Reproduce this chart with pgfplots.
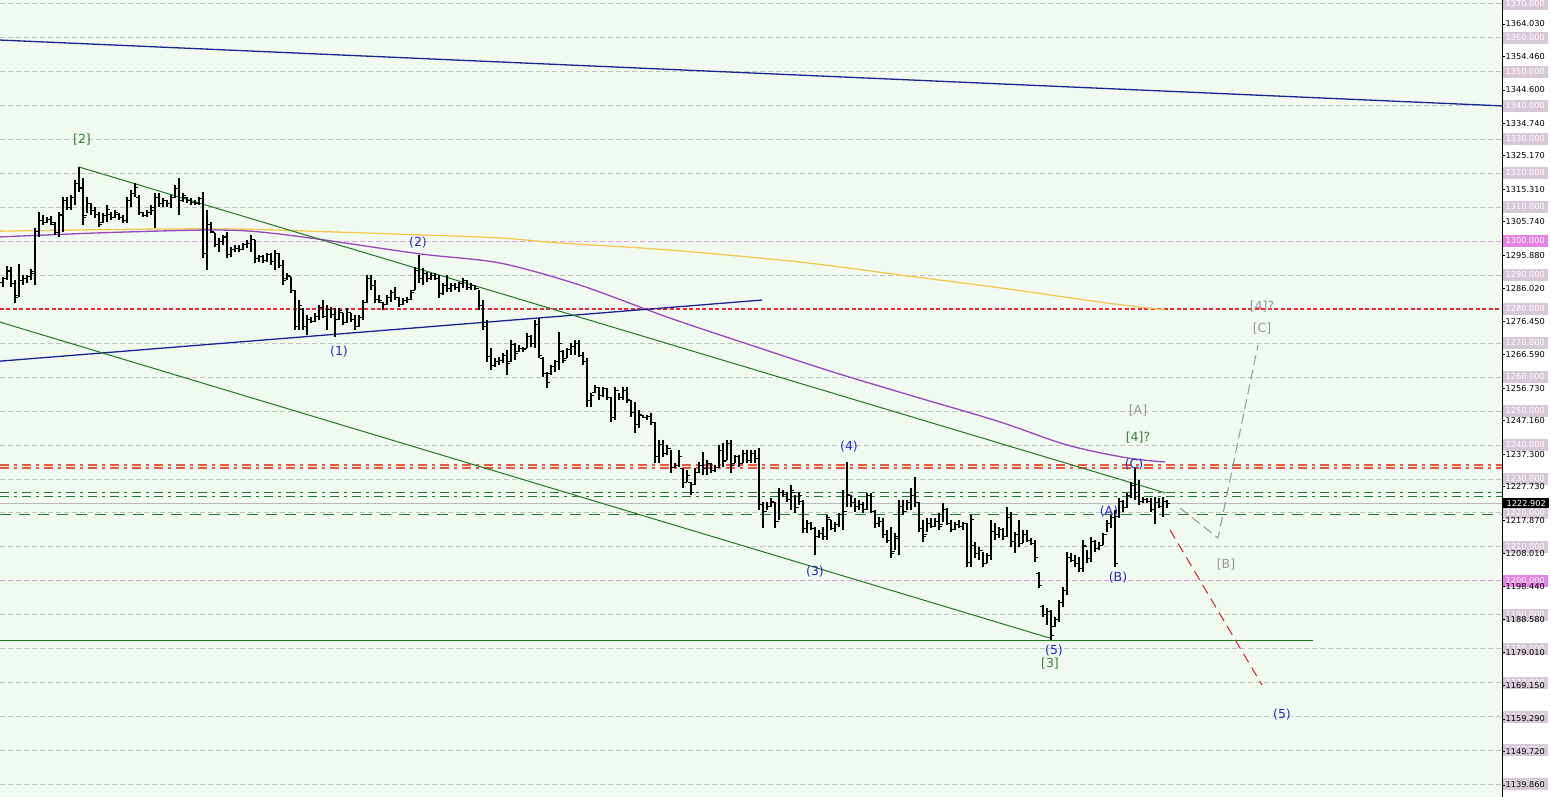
\documentclass[border=0pt]{standalone}
\usepackage{fontspec}
\setmainfont{DejaVu Sans}
\usepackage{pgfplots}
\usepackage{pgfplotstable}
\pgfplotsset{compat=1.18}

\definecolor{bgmint}{RGB}{240,250,241}
\definecolor{gridc}{RGB}{190,196,190}
\definecolor{navyl}{RGB}{25,35,150}
\definecolor{chang}{RGB}{30,120,30}
\definecolor{hgreen}{RGB}{20,130,20}
\definecolor{maY}{RGB}{240,200,80}
\definecolor{maP}{RGB}{150,70,190}
\definecolor{redd}{RGB}{235,40,55}
\definecolor{redt}{RGB}{235,85,60}
\definecolor{grnd}{RGB}{30,125,45}
\definecolor{pricel}{RGB}{185,185,185}
\definecolor{projr}{RGB}{210,30,50}
\definecolor{projg}{RGB}{150,150,150}
\definecolor{lblue}{RGB}{40,40,190}
\definecolor{lgreen}{RGB}{50,130,50}
\definecolor{lgrey}{RGB}{150,150,150}
\definecolor{mauve}{RGB}{215,200,215}
\definecolor{magh}{RGB}{230,130,225}
\definecolor{pinkg}{RGB}{225,160,215}

\newcommand\tickfont{\fontsize{8.2}{9.5}\selectfont}
\newcommand\lab{\fontsize{12.5}{14}\selectfont}
\setlength{\fboxsep}{1.5pt}
\newcommand\nb[1]{\colorbox{mauve}{\makebox[42pt]{\rule[-2pt]{0pt}{9pt}\textcolor{white}{#1}}}}
\newcommand\hb[1]{\colorbox{magh}{\makebox[42pt]{\rule[-2pt]{0pt}{9pt}\textcolor{white}{#1}}}}

\pgfdeclareplotmark{otick}{\pgfpathmoveto{\pgfqpoint{-2.8pt}{0pt}}\pgfpathlineto{\pgfqpoint{0pt}{0pt}}\pgfusepathqstroke}
\pgfdeclareplotmark{ctick}{\pgfpathmoveto{\pgfqpoint{0pt}{0pt}}\pgfpathlineto{\pgfqpoint{2.8pt}{0pt}}\pgfusepathqstroke}

% x = bar position (px), h l o c = high low open close
\pgfplotstableread{
x h l o c
3 1289.5 1286.5 1288.0 1289.0
7 1292.7 1288.6 1289.0 1291.5
11 1292.4 1286.5 1291.0 1287.5
15 1288.6 1281.8 1287.5 1283.5
19 1293.3 1283.6 1284.0 1288.5
23 1290.1 1287.1 1288.5 1289.0
27 1290.1 1287.7 1289.0 1289.5
31 1291.9 1288.6 1289.5 1291.0
35 1303.9 1287.1 1290.5 1303.0
39 1308.6 1301.3 1303.0 1306.0
43 1307.8 1304.8 1306.0 1305.5
47 1307.2 1305.4 1305.5 1306.5
51 1307.5 1304.8 1306.5 1305.5
55 1305.7 1301.9 1305.0 1302.5
59 1308.6 1301.3 1302.5 1308.0
63 1313.1 1302.8 1307.5 1312.0
67 1313.1 1309.2 1312.0 1310.0
71 1313.7 1309.2 1310.0 1313.0
75 1318.1 1310.7 1313.0 1317.0
79 1321.9 1314.5 1317.0 1315.5
83 1318.7 1304.8 1316.0 1307.0
87 1313.1 1308.3 1307.5 1311.0
91 1311.3 1307.8 1311.0 1309.0
95 1310.1 1306.9 1309.0 1308.0
99 1308.6 1304.2 1308.0 1305.0
103 1308.3 1305.4 1305.5 1307.5
107 1310.7 1305.7 1307.5 1309.5
111 1308.6 1306.3 1308.0 1307.0
115 1309.2 1306.9 1307.0 1308.5
119 1308.3 1306.3 1308.0 1307.0
123 1307.8 1305.4 1307.0 1306.0
127 1313.1 1305.4 1306.0 1312.0
131 1315.1 1310.1 1312.0 1314.0
135 1317.2 1313.1 1314.0 1316.0
139 1313.7 1307.8 1313.0 1308.5
143 1308.6 1307.2 1308.5 1307.5
147 1309.2 1307.2 1307.5 1308.5
151 1310.7 1307.8 1308.5 1310.0
155 1314.2 1303.9 1309.0 1313.0
159 1314.2 1310.1 1313.0 1311.0
163 1312.8 1310.1 1311.0 1312.0
167 1312.2 1310.1 1312.0 1311.0
171 1313.7 1309.8 1311.0 1313.0
175 1316.6 1312.8 1313.0 1315.5
179 1318.7 1307.8 1315.5 1312.0
183 1314.2 1311.6 1312.0 1313.5
187 1313.1 1311.3 1313.0 1312.0
191 1312.8 1310.7 1312.0 1311.5
195 1312.2 1310.7 1311.5 1311.0
199 1313.1 1310.7 1311.0 1312.5
203 1314.5 1295.1 1312.5 1296.5
207 1309.2 1291.6 1296.5 1305.0
211 1305.7 1302.5 1305.0 1303.0
215 1302.5 1298.3 1302.5 1299.0
219 1301.0 1296.9 1299.0 1300.0
223 1301.9 1298.9 1300.0 1301.0
227 1302.8 1295.1 1301.5 1296.0
231 1298.3 1295.4 1296.0 1297.5
235 1298.9 1296.9 1297.5 1298.0
239 1298.9 1296.9 1298.0 1297.5
243 1299.5 1297.5 1297.5 1299.0
247 1300.4 1298.0 1299.0 1299.5
251 1301.9 1296.9 1299.5 1300.5
255 1300.4 1293.6 1300.5 1295.0
259 1296.0 1293.9 1295.0 1295.5
263 1296.0 1293.6 1295.5 1294.5
267 1296.6 1293.9 1294.5 1296.0
271 1296.6 1293.0 1296.0 1294.0
275 1297.5 1291.6 1294.0 1296.5
279 1296.6 1292.1 1296.5 1293.0
283 1294.5 1287.1 1293.0 1288.5
287 1290.7 1288.6 1289.0 1290.0
291 1289.5 1284.8 1289.5 1285.5
295 1285.7 1273.9 1285.5 1275.0
299 1282.7 1273.9 1275.0 1281.0
303 1280.4 1273.9 1280.0 1275.0
307 1278.3 1272.4 1275.0 1277.0
311 1277.7 1275.9 1277.0 1276.5
315 1278.9 1276.2 1276.5 1278.0
319 1281.2 1276.8 1278.0 1280.5
323 1282.7 1277.4 1280.5 1278.0
327 1281.2 1273.9 1278.0 1280.0
331 1280.7 1277.4 1280.0 1278.5
335 1280.4 1271.8 1278.5 1277.0
339 1280.4 1276.8 1277.0 1279.5
343 1278.9 1275.3 1279.0 1276.0
347 1280.4 1275.9 1276.0 1279.0
351 1278.9 1276.2 1279.0 1277.0
355 1278.3 1273.9 1277.0 1275.0
359 1278.3 1274.8 1275.0 1277.5
363 1282.7 1276.8 1277.5 1282.0
367 1290.1 1281.8 1282.0 1289.0
371 1290.1 1285.7 1289.0 1287.0
375 1288.6 1281.8 1287.0 1283.0
379 1284.2 1281.8 1283.0 1282.5
383 1282.1 1279.8 1282.0 1281.5
387 1284.2 1281.2 1281.5 1283.5
391 1285.7 1282.1 1283.5 1285.0
395 1286.5 1282.7 1285.0 1283.5
399 1283.6 1280.7 1283.5 1281.5
403 1283.3 1281.2 1281.5 1282.5
407 1283.6 1281.8 1282.5 1283.0
411 1285.7 1282.7 1283.0 1285.0
415 1292.4 1285.7 1285.5 1291.5
419 1296.0 1287.7 1291.5 1289.0
423 1292.1 1287.1 1289.0 1290.5
427 1291.0 1288.0 1290.5 1289.0
431 1290.7 1288.6 1289.0 1290.0
435 1290.7 1288.6 1290.0 1289.0
439 1290.1 1283.3 1289.0 1284.5
443 1287.7 1284.2 1284.5 1287.0
447 1290.1 1285.1 1287.0 1286.0
451 1287.7 1285.1 1286.0 1287.0
455 1287.7 1285.7 1287.0 1286.5
459 1288.0 1285.1 1286.5 1287.5
463 1289.2 1286.3 1287.5 1288.5
467 1288.6 1285.7 1288.5 1286.5
471 1287.7 1285.7 1286.5 1287.0
475 1287.1 1285.7 1287.0 1286.0
479 1285.7 1279.8 1286.0 1281.0
483 1282.7 1273.9 1281.0 1275.0
487 1276.8 1264.4 1275.0 1266.0
491 1268.6 1262.1 1266.0 1263.5
495 1265.6 1263.0 1263.5 1264.5
499 1265.9 1263.6 1264.5 1265.0
503 1267.1 1264.2 1265.0 1266.5
507 1268.0 1260.6 1266.5 1264.0
511 1270.9 1264.4 1264.5 1269.5
515 1270.1 1265.0 1269.5 1267.0
519 1269.5 1267.4 1267.5 1268.5
523 1268.9 1267.4 1268.5 1268.0
527 1273.0 1268.6 1268.5 1272.0
531 1272.4 1268.9 1272.0 1270.0
535 1276.8 1268.6 1270.0 1275.5
539 1277.4 1265.6 1275.5 1266.5
543 1265.9 1260.0 1265.5 1261.0
547 1261.5 1256.8 1261.0 1258.5
551 1263.6 1260.6 1261.0 1263.0
555 1265.0 1261.5 1263.0 1264.5
559 1273.3 1262.1 1264.5 1270.0
563 1268.0 1264.2 1267.5 1265.0
567 1268.6 1265.6 1265.5 1268.0
571 1270.1 1266.5 1268.0 1269.0
575 1270.9 1266.5 1269.0 1270.0
579 1270.9 1265.9 1270.0 1266.5
583 1267.4 1263.6 1266.5 1264.5
587 1265.6 1251.2 1264.5 1253.0
591 1255.3 1251.2 1253.0 1254.5
595 1257.7 1255.3 1255.5 1257.0
599 1257.1 1253.3 1257.0 1254.5
603 1257.1 1254.1 1254.5 1256.5
607 1256.8 1253.3 1256.5 1254.0
611 1254.1 1246.8 1254.0 1248.0
615 1257.1 1247.4 1248.0 1256.0
619 1255.3 1253.3 1256.0 1254.0
623 1257.1 1253.3 1254.0 1256.0
627 1257.1 1252.4 1256.0 1253.5
631 1253.3 1248.3 1253.0 1249.5
635 1252.7 1243.5 1249.5 1246.0
639 1250.3 1245.0 1246.0 1249.0
643 1248.8 1247.9 1248.8 1248.2
647 1248.8 1247.4 1248.2 1248.5
651 1249.4 1245.9 1248.5 1246.5
655 1246.8 1234.7 1246.5 1236.5
659 1241.5 1234.7 1236.5 1240.0
663 1241.5 1236.5 1240.0 1237.5
667 1240.0 1237.1 1237.5 1239.0
671 1238.5 1231.8 1239.0 1233.5
675 1234.7 1233.2 1233.5 1234.0
679 1238.5 1233.5 1234.0 1236.5
683 1233.2 1227.3 1233.0 1229.0
687 1232.6 1229.1 1229.0 1231.0
691 1229.1 1225.3 1229.0 1226.0
695 1233.2 1228.2 1228.5 1232.0
699 1235.0 1231.8 1232.0 1234.0
703 1237.9 1231.2 1234.0 1233.0
707 1235.6 1231.2 1233.0 1234.5
711 1234.7 1231.8 1234.5 1232.5
715 1234.1 1232.1 1232.5 1233.5
719 1240.0 1233.2 1233.5 1238.5
723 1240.6 1233.5 1238.5 1235.0
727 1241.5 1235.6 1235.5 1240.5
731 1241.5 1231.8 1240.5 1234.0
735 1237.1 1234.7 1234.5 1236.5
739 1237.1 1233.5 1236.5 1234.5
743 1238.5 1234.7 1234.5 1237.5
747 1238.5 1234.7 1237.5 1235.5
751 1238.5 1234.7 1235.5 1237.5
755 1238.5 1234.7 1237.5 1236.0
759 1239.1 1220.9 1236.0 1222.5
763 1223.2 1215.5 1222.5 1220.5
767 1223.2 1220.9 1220.5 1222.0
771 1224.4 1221.7 1222.0 1223.5
775 1223.2 1215.5 1223.0 1217.5
779 1227.3 1217.9 1217.5 1226.0
783 1226.7 1224.7 1226.0 1225.5
787 1226.2 1223.2 1225.5 1224.0
791 1228.2 1220.9 1224.0 1226.5
795 1225.3 1220.0 1226.0 1221.5
799 1226.2 1222.3 1221.5 1225.0
803 1223.8 1214.1 1223.5 1215.5
807 1217.9 1214.1 1215.5 1217.0
811 1217.3 1214.9 1217.0 1215.5
815 1215.8 1207.6 1215.5 1213.0
819 1214.9 1212.6 1213.0 1214.0
823 1215.8 1212.0 1214.0 1213.0
827 1219.4 1212.0 1213.0 1218.5
831 1217.9 1214.9 1218.0 1215.5
835 1217.3 1214.4 1215.5 1216.5
839 1220.0 1215.8 1216.5 1219.5
843 1226.7 1214.9 1219.5 1220.5
847 1235.0 1221.7 1220.5 1225.5
851 1225.3 1221.7 1225.0 1223.0
855 1224.4 1220.3 1223.0 1222.0
859 1223.8 1220.9 1222.0 1222.5
863 1223.2 1220.0 1222.5 1221.0
867 1225.9 1220.9 1221.0 1225.0
871 1225.9 1220.0 1225.0 1220.5
875 1220.9 1215.5 1220.5 1217.0
879 1218.8 1215.8 1217.0 1217.5
883 1218.5 1212.6 1217.5 1213.5
887 1214.9 1211.1 1213.5 1212.0
891 1215.8 1206.7 1212.0 1208.0
895 1214.1 1209.1 1208.5 1213.0
899 1223.8 1207.6 1212.5 1222.0
903 1223.8 1219.4 1222.0 1220.5
907 1223.8 1220.9 1220.5 1223.0
911 1227.3 1220.9 1223.0 1225.0
915 1230.6 1221.7 1225.0 1223.0
919 1223.2 1214.4 1223.0 1215.5
923 1217.9 1211.4 1215.5 1213.0
927 1218.5 1214.4 1213.5 1217.0
931 1218.5 1215.5 1217.0 1216.0
935 1218.5 1215.8 1216.0 1217.5
939 1220.0 1214.9 1217.5 1216.0
943 1222.9 1217.3 1216.5 1221.0
947 1221.4 1216.4 1221.0 1217.0
951 1217.9 1214.4 1217.0 1215.0
955 1217.3 1214.9 1215.0 1216.5
959 1217.9 1215.5 1216.5 1216.0
963 1217.3 1214.9 1216.0 1217.0
967 1217.0 1204.1 1217.0 1205.5
971 1219.4 1204.1 1205.5 1218.0
975 1211.4 1206.7 1210.5 1208.0
979 1209.9 1206.1 1208.0 1209.0
983 1208.5 1204.1 1209.0 1205.0
987 1208.2 1205.2 1205.0 1207.5
991 1217.9 1206.1 1207.5 1214.5
995 1217.0 1212.0 1214.5 1213.5
999 1215.8 1212.6 1213.5 1215.0
1003 1215.5 1212.0 1215.0 1213.0
1007 1221.7 1212.9 1213.0 1218.5
1011 1220.3 1209.9 1218.5 1211.5
1015 1214.4 1208.2 1211.5 1213.5
1019 1217.9 1209.9 1213.5 1211.0
1023 1214.9 1211.1 1211.0 1213.5
1027 1214.9 1211.4 1213.5 1212.0
1031 1212.6 1210.5 1212.0 1211.0
1035 1212.0 1205.5 1211.0 1207.0
1039 1202.6 1197.9 1202.0 1198.5
1043 1192.9 1189.3 1192.5 1190.0
1047 1192.0 1187.0 1190.0 1191.0
1051 1191.4 1182.6 1191.0 1184.0
1055 1189.3 1186.4 1186.5 1188.5
1059 1194.3 1187.9 1188.5 1193.5
1063 1198.2 1192.3 1193.5 1197.0
1067 1208.5 1195.8 1197.0 1207.0
1071 1208.2 1205.5 1207.0 1206.0
1075 1207.6 1204.1 1206.0 1205.0
1079 1207.0 1202.6 1205.0 1203.5
1083 1212.0 1202.6 1203.5 1210.5
1087 1209.1 1205.2 1210.0 1206.5
1091 1212.9 1205.5 1206.5 1211.5
1095 1212.0 1208.5 1211.5 1209.5
1099 1211.4 1209.1 1209.5 1210.5
1103 1214.1 1210.5 1210.5 1213.5
1107 1217.9 1214.4 1213.5 1217.0
1111 1219.4 1215.5 1217.0 1218.5
1115 1220.9 1204.1 1218.5 1205.0
1119 1224.4 1218.5 1219.0 1223.5
1123 1223.8 1220.3 1223.5 1221.5
1127 1225.9 1221.4 1221.5 1225.0
1131 1229.1 1224.4 1225.0 1228.0
1135 1233.2 1223.8 1228.0 1226.0
1139 1229.7 1222.3 1226.0 1223.5
1143 1224.7 1222.9 1223.5 1224.0
1147 1224.4 1222.9 1224.0 1223.5
1151 1224.4 1220.3 1223.5 1221.0
1155 1224.7 1216.7 1221.0 1223.0
1159 1224.4 1221.4 1223.0 1222.0
1163 1224.7 1218.8 1222.0 1223.5
1167 1223.8 1221.4 1223.5 1222.9
}\bars

\begin{document}
\begin{tikzpicture}
\useasboundingbox (0,0) rectangle (1551pt,797pt);
\begin{axis}[
    at={(0,0)}, anchor=south west,
    scale only axis,
    width=1502pt, height=797pt,
    xmin=0, xmax=1502,
    ymin=1136.3, ymax=1371.1,
    axis x line=none,
    axis y line*=right,
    axis line style={black, line width=0.8pt},
    axis background/.style={fill=bgmint},
    clip mode=individual,
    xtick=\empty,
    ytick={1140,1150,...,1370},
    yticklabels={\nb{1140.000},\nb{1150.000},\nb{1160.000},\nb{1170.000},\nb{1180.000},\nb{1190.000},\hb{1200.000},\nb{1210.000},\nb{1220.000},\nb{1230.000},\nb{1240.000},\nb{1250.000},\nb{1260.000},\nb{1270.000},\nb{1280.000},\nb{1290.000},\hb{1300.000},\nb{1310.000},\nb{1320.000},\nb{1330.000},\nb{1340.000},\nb{1350.000},\nb{1360.000},\nb{1370.000}},
    ymajorgrids,
    major grid style={gridc, line width=0.8pt, dash pattern=on 5pt off 3pt},
    major tick length=0pt,
    tick align=outside,
    yticklabel style={font=\tickfont, inner sep=0.5pt},
    extra y ticks={1139.86,1149.72,1159.29,1169.15,1179.01,1188.58,1198.44,1208.01,1217.87,1227.73,1237.30,1247.16,1256.73,1266.59,1276.45,1286.02,1295.88,1305.74,1315.31,1325.17,1334.74,1344.60,1354.46,1364.03},
    extra y tick labels={1139.860,1149.720,1159.290,1169.150,1179.010,1188.580,1198.440,1208.010,1217.870,1227.730,1237.300,1247.160,1256.730,1266.590,1276.450,1286.020,1295.880,1305.740,1315.310,1325.170,1334.740,1344.600,1354.460,1364.030},
    extra y tick style={grid=none, major tick length=3pt, tick style={black, line width=0.8pt},
        tick label style={font=\tickfont, text=black, inner sep=1pt}},
    /pgf/number format/assume math mode=true,
]

% highlighted round levels
\addplot[draw=pinkg, line width=0.8pt, dash pattern=on 5pt off 3pt] coordinates {(0,1300) (1502,1300)};
\addplot[draw=pinkg, line width=0.8pt, dash pattern=on 5pt off 3pt] coordinates {(0,1200) (1502,1200)};
\addplot[draw=bgmint, line width=2pt] coordinates {(0,1280) (1502,1280)};
\addplot[draw=redd, line width=1.5pt, dash pattern=on 4pt off 2.5pt] coordinates {(0,1280) (1502,1280)};

% horizontal levels
\addplot[draw=redt, line width=1.4pt, dash pattern=on 9pt off 5pt on 3pt off 5pt] coordinates {(0,1234.1) (1502,1234.1)};
\addplot[draw=redt, line width=1.4pt, dash pattern=on 9pt off 5pt on 3pt off 5pt] coordinates {(0,1233.2) (1502,1233.2)};
\addplot[draw=grnd, line width=1pt, dash pattern=on 9pt off 5pt on 3pt off 5pt] coordinates {(0,1225.9) (1502,1225.9)};
\addplot[draw=grnd, line width=1pt, dash pattern=on 9pt off 5pt on 3pt off 5pt] coordinates {(0,1224.7) (1502,1224.7)};
\addplot[draw=pricel, line width=0.8pt] coordinates {(0,1222.9) (1502,1222.9)};
\addplot[draw=grnd, line width=1pt, dash pattern=on 11pt off 8pt] coordinates {(0,1219.4) (1502,1219.4)};
\addplot[draw=hgreen, line width=1pt] coordinates {(0,1182.3) (1313,1182.3)};

% moving averages
\addplot[draw=maY, line width=1.3pt, smooth] coordinates {
 (0,1303.0) (150,1303.6) (240,1303.6) (330,1302.8) (420,1301.9) (500,1301.0)
 (560,1299.5) (667,1297.5) (800,1293.9) (900,1290.1) (1000,1286.3) (1100,1282.1) (1165,1279.8)};
\addplot[draw=maP, line width=1.3pt, smooth] coordinates {
 (0,1301.3) (100,1302.5) (200,1303.3) (250,1303.0) (310,1301.0) (420,1296.3) (500,1293.6)
 (580,1287.1) (667,1277.7) (750,1269.5) (833,1261.5) (920,1253.8) (1000,1246.8)
 (1067,1240.0) (1127,1236.2) (1165,1235.0)};

% trend lines
\addplot[draw=navyl, line width=1.3pt] coordinates {(0,1359.3) (1502,1339.9)};
\addplot[draw=navyl, line width=1.3pt] coordinates {(0,1264.7) (762,1282.7)};
\addplot[draw=chang, line width=1pt] coordinates {(79,1321.9) (1165,1225.9)};
\addplot[draw=chang, line width=1pt] coordinates {(0,1276.2) (1050,1183.1)};

% projections
\addplot[draw=projr, line width=1pt, dash pattern=on 10pt off 6pt] coordinates {(1170,1215.0) (1262,1169.3)};
\addplot[draw=projg, line width=1pt, dash pattern=on 10pt off 5pt] coordinates {(1180,1221.4) (1218,1212.6) (1258,1269.5)};

% OHLC bars: high-low range, then open and close ticks
\addplot[draw=none, mark=none, forget plot,
    error bars/.cd, y dir=minus, y explicit, error mark=none,
    error bar style={draw=black, line width=1.1pt, solid}]
    table[x=x, y=h, y error minus expr=\thisrow{h}-\thisrow{l}] {\bars};
\addplot[draw=none, mark=otick, mark options={draw=black, line width=1pt, solid}] table[x=x, y=o] {\bars};
\addplot[draw=none, mark=ctick, mark options={draw=black, line width=1pt, solid}] table[x=x, y=c] {\bars};

% wave labels
\node[font=\lab, text=lgreen] at (axis cs:82,1329.9) {[2]};
\node[font=\lab, text=lblue] at (axis cs:339,1267.4) {(1)};
\node[font=\lab, text=lblue] at (axis cs:418,1299.5) {(2)};
\node[font=\lab, text=lblue] at (axis cs:815,1202.6) {(3)};
\node[font=\lab, text=lblue] at (axis cs:849,1239.4) {(4)};
\node[font=\lab, text=lblue] at (axis cs:1054,1179.3) {(5)};
\node[font=\lab, text=lgreen] at (axis cs:1050,1175.5) {[3]};
\node[font=\lab, text=lblue] at (axis cs:1109,1220.3) {(A)};
\node[font=\lab, text=lblue] at (axis cs:1118,1200.8) {(B)};
\node[font=\lab, text=lblue] at (axis cs:1134,1234.1) {(C)};
\node[font=\lab, text=lgreen] at (axis cs:1138,1242.1) {[4]?};
\node[font=\lab, text=lgrey] at (axis cs:1138,1250.0) {[A]};
\node[font=\lab, text=lgrey] at (axis cs:1262,1280.7) {[4]?};
\node[font=\lab, text=lgrey] at (axis cs:1262,1274.2) {[C]};
\node[font=\lab, text=lgrey] at (axis cs:1226,1204.9) {[B]};
\node[font=\lab, text=lblue] at (axis cs:1282,1160.7) {(5)};

% last price tag
\node[anchor=west, fill=black, text=white, font=\tickfont, inner sep=1.5pt, minimum width=46pt]
    at (axis cs:1503,1222.9) {1222.902};
\end{axis}
\end{tikzpicture}
\end{document}
